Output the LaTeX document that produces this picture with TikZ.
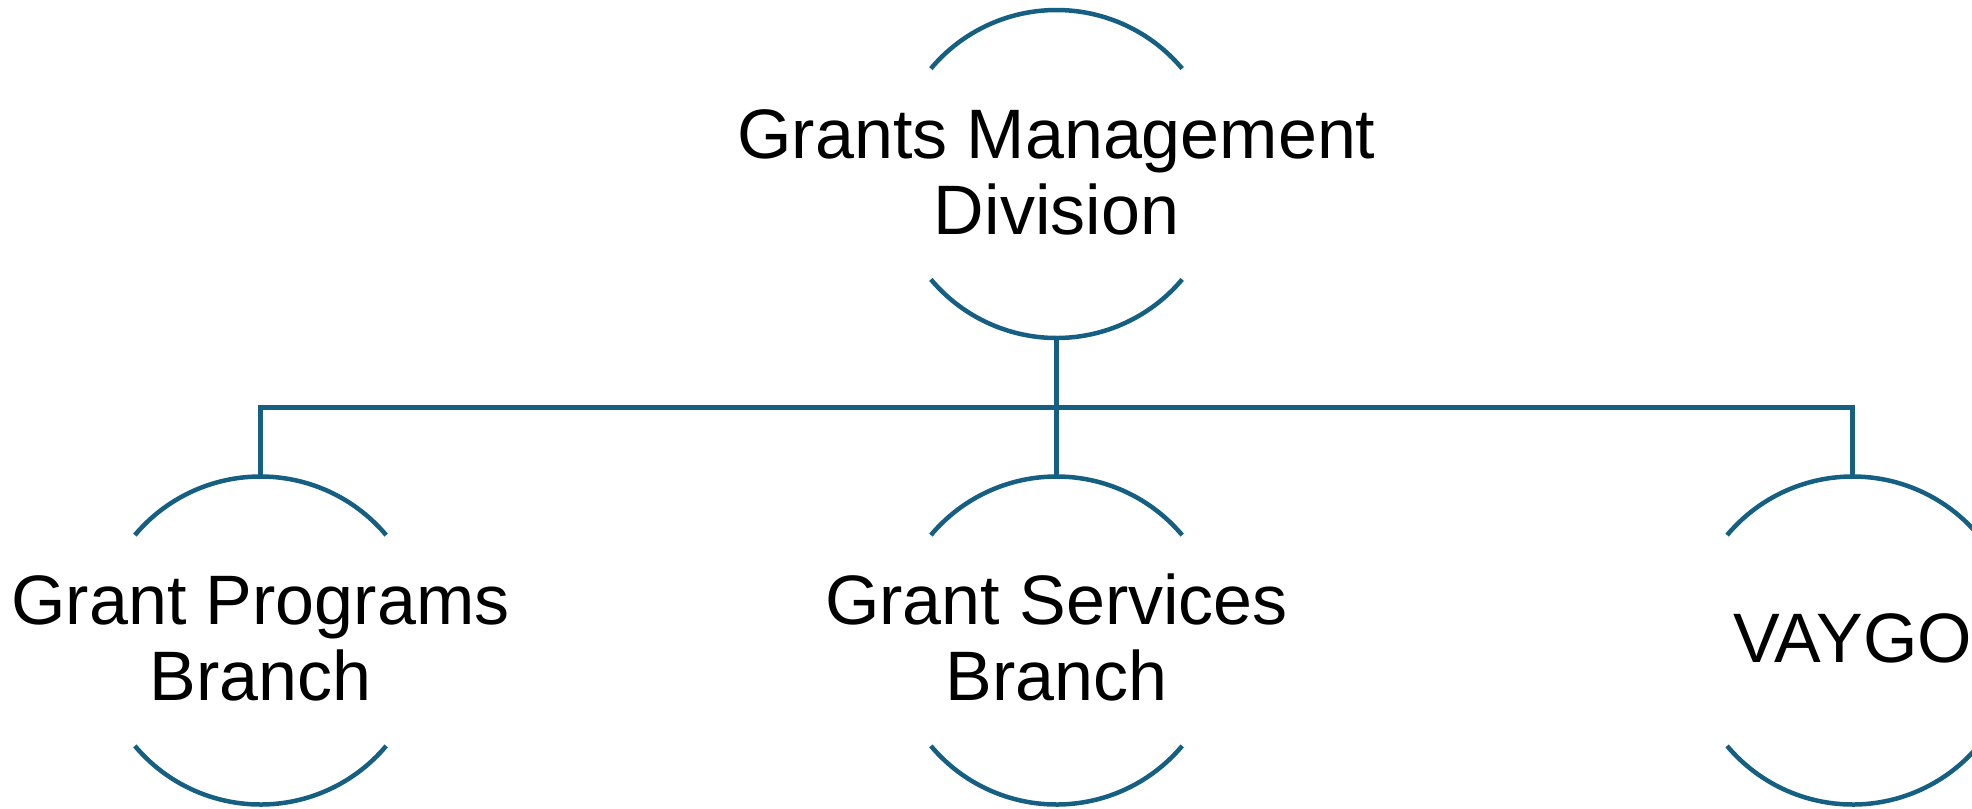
\documentclass[tikz,border=0pt]{standalone}
\usepackage{fontspec}
\setmainfont{Liberation Sans}
\definecolor{orgblue}{HTML}{156082}
\newcommand{\unitlines}[1]{\begin{tabular}{@{}c@{}}#1\end{tabular}}
\tikzset{
  ring/.style={circle, draw=none, minimum size=131.2pt, inner sep=0pt, outer sep=0pt},
  unittext/.style={inner sep=0pt, outer sep=0pt, yshift=-2.8pt,
    font=\fontsize{28}{30.4}\selectfont},
  arcline/.style={draw=orgblue, line width=1.8pt},
  link/.style={draw=orgblue, line width=1.8pt}
}
\begin{document}
\begin{tikzpicture}[x=0.4pt,y=-0.4pt]
\clip (0,0) rectangle (1972,808);
\fill[white] (0,0) rectangle (1972,808);
\node[ring] (top) at (1056.5,174) {};
\node[ring] (a) at (260.5,640.5) {};
\node[ring] (b) at (1056.5,640.5) {};
\node[ring] (c) at (1852.7,640.5) {};
\node[unittext] (topt) at (top) {\unitlines{Grants Management\\Division}};
\node[unittext] (at) at (a) {\unitlines{Grant Programs\\Branch}};
\node[unittext] (bt) at (b) {\unitlines{Grant Services\\Branch}};
\node[unittext] (ct) at (c) {\unitlines{VAYGO}};
\foreach \n in {top,a,b,c}{
  \draw[arcline] (\n.140) arc[start angle=140, end angle=40, radius=65.6pt];
  \draw[arcline] (\n.220) arc[start angle=220, end angle=320, radius=65.6pt];
}
\coordinate (bar) at (1056.5,407.5);
\draw[link] (top.south) -- (b.north);
\draw[link] (a.north) |- (bar) -| (c.north);
\end{tikzpicture}
\end{document}
